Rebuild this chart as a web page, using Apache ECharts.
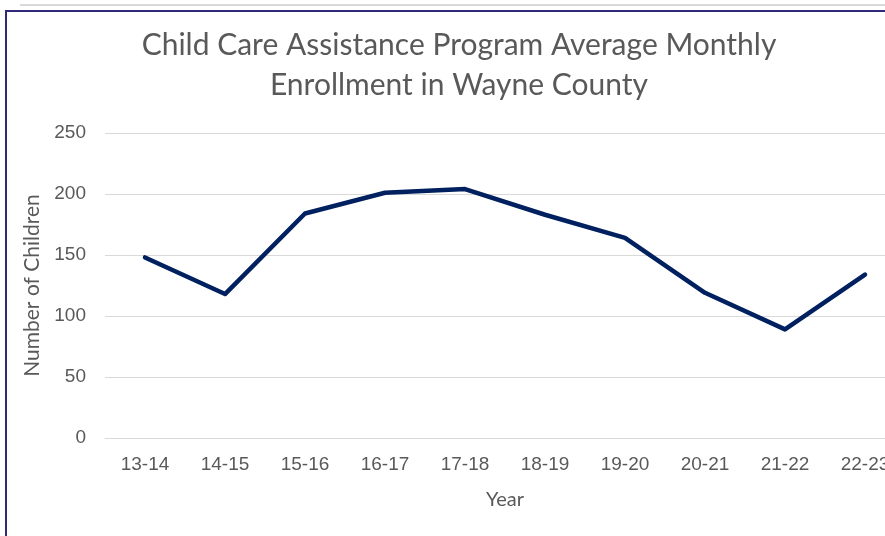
<!DOCTYPE html>
<html>
<head>
<meta charset="utf-8">
<script src="https://cdn.jsdelivr.net/npm/echarts@6/dist/echarts.min.js"></script>
<style>
html,body{margin:0;padding:0;background:#fff;}
#wrap{position:relative;width:885px;height:536px;overflow:hidden;}
#chart{position:absolute;left:0;top:0;width:930px;height:536px;}
#gray{position:absolute;left:20px;top:4px;right:0;height:2px;background:#d9d9d9;}
#frame{position:absolute;left:5px;top:10px;width:900px;height:600px;border-left:2px solid #2e2a78;border-top:2px solid #2e2a78;}
</style>
</head>
<body>
<div id="wrap">
<div id="chart"></div>
<div id="gray"></div>
<div id="frame"></div>
</div>
<script>
const categories = ["13-14","14-15","15-16","16-17","17-18","18-19","19-20","20-21","21-22","22-23"];
const enrollment = [148, 118, 184, 201, 204, 183, 164, 119, 89, 134];
const titleText = "Child Care Assistance Program Average Monthly\nEnrollment in Wayne County";

const chart = echarts.init(document.getElementById('chart'));
chart.setOption({
  animation: false,
  title: {
    text: titleText,
    left: 454, top: 20, textAlign: 'center',
    textStyle: {fontFamily: 'Lato', fontSize: 30, fontWeight: 'normal', color: '#595959', lineHeight: 40}
  },
  grid: {left: 105, top: 133, width: 800, height: 305, containLabel: false},
  xAxis: {
    type: 'category', data: categories, boundaryGap: true,
    name: 'Year', nameLocation: 'middle', nameGap: 52,
    nameTextStyle: {fontFamily: 'Lato', fontSize: 20, color: '#595959'},
    axisLine: {show: true, lineStyle: {color: '#d9d9d9', width: 1}},
    axisTick: {show: false},
    axisLabel: {fontFamily: 'Liberation Sans', fontSize: 19, color: '#595959', margin: 17}
  },
  yAxis: {
    type: 'value', min: 0, max: 250, interval: 50,
    name: 'Number of Children', nameLocation: 'middle', nameGap: 62,
    nameTextStyle: {fontFamily: 'Lato', fontSize: 21, color: '#595959'},
    axisLine: {show: false}, axisTick: {show: false},
    axisLabel: {fontFamily: 'Liberation Sans', fontSize: 19, color: '#595959', margin: 19},
    splitLine: {lineStyle: {color: '#d9d9d9', width: 1}}
  },
  series: [{
    type: 'line', data: enrollment, symbol: 'none',
    lineStyle: {color: '#002060', width: 4.5, cap: 'round', join: 'round'}
  }]
});
</script>
</body>
</html>
